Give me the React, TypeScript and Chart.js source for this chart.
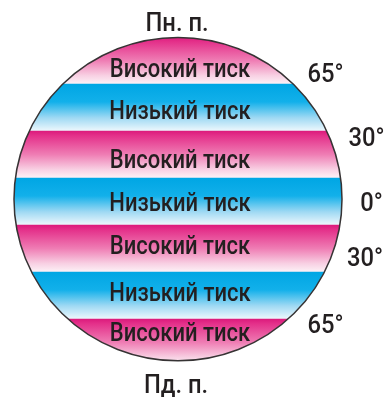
import React, { useEffect, useRef } from "react";
import { Chart, registerables } from "chart.js";

Chart.register(...registerables);

// ---- data ----
const BAND_LABELS = [
  "Високий тиск",
  "Низький тиск",
  "Високий тиск",
  "Низький тиск",
  "Високий тиск",
  "Низький тиск",
  "Високий тиск",
];
const BAND_TYPES = ["high", "low", "high", "low", "high", "low", "high"];
const BAND_SPAN: [number, number][] = BAND_LABELS.map(() => [-1, 1]);
const LAT_LABELS = ["65°", "30°", "0°", "30°", "65°"];
const LAT_AT = [0.26, 1.62, 3.01, 4.18, 5.61]; // band-index units
const LAT_X = [0.9, 1.15, 1.18, 1.14, 0.9]; // x-axis units
const POLE_TOP = "Пн. п.";
const POLE_BOTTOM = "Пд. п.";

const TEXT = "#231f20";
const FONT = "Roboto, 'Liberation Sans', sans-serif";

function drawText(
  ctx: CanvasRenderingContext2D,
  text: string,
  x: number,
  capCenterY: number,
  size: number,
  sx: number
) {
  ctx.save();
  ctx.font = `500 ${size}px ${FONT}`;
  ctx.fillStyle = TEXT;
  ctx.textAlign = "center";
  ctx.textBaseline = "alphabetic";
  ctx.translate(x, capCenterY + size * 0.355);
  ctx.scale(sx, 1);
  ctx.fillText(text, 0, 0);
  ctx.restore();
}

function globePath(chart: any) {
  const { ctx, scales } = chart;
  const x0 = scales.x.getPixelForValue(-1);
  const x1 = scales.x.getPixelForValue(1);
  const y0 = scales.y.getPixelForValue(-0.49);
  const y1 = scales.y.getPixelForValue(6.39);
  ctx.beginPath();
  ctx.ellipse((x0 + x1) / 2, (y0 + y1) / 2, (x1 - x0) / 2, (y1 - y0) / 2, 0, 0, Math.PI * 2);
}

const globePlugin = {
  id: "globe",
  beforeDatasetsDraw(chart: any) {
    chart.ctx.save();
    globePath(chart);
    chart.ctx.clip();
  },
  afterDatasetsDraw(chart: any) {
    const { ctx, scales } = chart;
    ctx.restore();
    ctx.save();
    globePath(chart);
    ctx.strokeStyle = "#363334";
    ctx.lineWidth = 1.5;
    ctx.stroke();
    ctx.restore();

    const cx = scales.x.getPixelForValue(0);
    const textY = [0.17, 0.05, 0.1, 0.01, -0.07, -0.07, -0.22];
    BAND_LABELS.forEach((t, i) => {
      drawText(ctx, t, cx + 2, scales.y.getPixelForValue(i + textY[i]), 25, 0.88);
    });
    LAT_LABELS.forEach((t, i) => {
      drawText(ctx, t, scales.x.getPixelForValue(LAT_X[i]), scales.y.getPixelForValue(LAT_AT[i]), 25, 0.95);
    });
    drawText(ctx, POLE_TOP, cx - 1, scales.y.getPixelForValue(-0.81), 25, 0.95);
    drawText(ctx, POLE_BOTTOM, cx - 2, scales.y.getPixelForValue(6.88), 25, 0.95);
  },
};

export default function App() {
  const ref = useRef<HTMLCanvasElement>(null);
  useEffect(() => {
    if (!ref.current) return;
    const chart = new Chart(ref.current, {
      type: "bar",
      data: {
        labels: BAND_LABELS,
        datasets: [
          {
            data: BAND_SPAN as any,
            borderWidth: 0,
            barPercentage: 1,
            categoryPercentage: 1,
            backgroundColor: (c: any) => {
              const chart = c.chart;
              const type = BAND_TYPES[c.dataIndex];
              const base = type === "high" ? "#e6308a" : "#00abe8";
              if (!chart.chartArea || c.dataIndex === undefined) return base;
              const ys = chart.scales.y;
              const top = ys.getPixelForValue(c.dataIndex - 0.5);
              const bottom = ys.getPixelForValue(c.dataIndex + 0.5);
              const g = chart.ctx.createLinearGradient(0, top, 0, bottom);
              if (type === "high") {
                g.addColorStop(0, "#dc1a7c");
                g.addColorStop(0.1, "#e4308a");
                g.addColorStop(0.5, "#ef7db4");
                g.addColorStop(0.82, "#f8d0e3");
                g.addColorStop(1, "#fdf2f7");
              } else {
                g.addColorStop(0, "#00a6e4");
                g.addColorStop(0.38, "#12b0ea");
                g.addColorStop(0.72, "#9fd9f3");
                g.addColorStop(1, "#eef8fd");
              }
              return g;
            },
          },
        ],
      },
      options: {
        indexAxis: "y",
        animation: false,
        responsive: true,
        maintainAspectRatio: false,
        layout: { padding: { left: 14, right: 50, top: 37, bottom: 34 } },
        scales: {
          x: { type: "linear", min: -1, max: 1, display: false },
          y: { type: "category", display: false, offset: true },
        },
        plugins: { legend: { display: false }, tooltip: { enabled: false } },
      },
      plugins: [globePlugin],
    });
    return () => chart.destroy();
  }, []);
  return (
    <div style={{ position: "absolute", left: 0, top: 0, width: 392, height: 400, background: "#fff" }}>
      <canvas ref={ref} />
    </div>
  );
}
